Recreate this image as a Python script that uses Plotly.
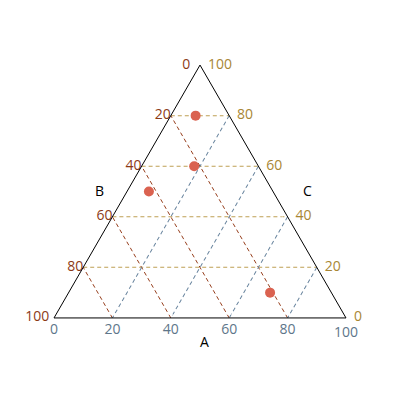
import plotly.graph_objects as go

# Data (percent compositions)
A_vals = [8.5, 18, 7.5, 69]
B_vals = [11.5, 22, 42.5, 21]
C_vals = [80, 60, 50, 10]

# Tick labels
ticks = [0, 20, 40, 60, 80, 100]

RED = "rgb(140,58,22)"
GOLD = "rgb(168,134,52)"
BLUE = "rgb(94,118,138)"
GRID_RED = "rgb(150,62,28)"
GRID_GOLD = "rgb(190,160,84)"
GRID_BLUE = "rgb(104,132,158)"
FONT = "Open Sans"
CLEAR = "rgba(0,0,0,0)"

# label offsets (invisible marker sizes control the text offset)
B_off = [14, 0, 0, 0, 0, 6]
A_off = [8, 8, 8, 8, 8, 12]
C_off = [11, 11, 11, 11, 11, 11]

fig = go.Figure()

# Data points (ternary a = C at top, b = B bottom-left, c = A bottom-right)
fig.add_trace(go.Scatterternary(
    a=C_vals, b=B_vals, c=A_vals, mode="markers",
    marker=dict(size=10, color="rgb(218,98,80)"),
    showlegend=False, hoverinfo="skip"))

# B tick labels along left edge
fig.add_trace(go.Scatterternary(
    a=[100 - t for t in ticks], b=ticks, c=[0] * len(ticks),
    mode="markers+text", text=[str(t) for t in ticks], textposition="middle left",
    marker=dict(size=B_off, color=CLEAR),
    textfont=dict(family=FONT, size=14, color=RED),
    cliponaxis=False, showlegend=False, hoverinfo="skip"))

# A tick labels along bottom edge
fig.add_trace(go.Scatterternary(
    a=[0] * len(ticks), b=[100 - t for t in ticks], c=ticks,
    mode="markers+text", text=[str(t) for t in ticks], textposition="bottom center",
    marker=dict(size=A_off, color=CLEAR),
    textfont=dict(family=FONT, size=14, color=BLUE),
    cliponaxis=False, showlegend=False, hoverinfo="skip"))

# C tick labels along right edge
fig.add_trace(go.Scatterternary(
    a=ticks, b=[0] * len(ticks), c=[100 - t for t in ticks],
    mode="markers+text", text=[str(t) for t in ticks], textposition="middle right",
    marker=dict(size=C_off, color=CLEAR),
    textfont=dict(family=FONT, size=14, color=GOLD),
    cliponaxis=False, showlegend=False, hoverinfo="skip"))

def ax(gridcolor):
    return dict(
        showticklabels=False, ticks="", tick0=0, dtick=20,
        showgrid=True, gridcolor=gridcolor, gridwidth=1, griddash="4px,3px",
        showline=True, linecolor="black", linewidth=1, title=dict(text=""),
    )

title_font = dict(family=FONT, size=14, color="black")
fig.update_layout(
    width=400, height=400,
    margin=dict(l=46, r=62, t=57, b=90),
    paper_bgcolor="white",
    font=dict(family=FONT, size=14, color="black"),
    ternary=dict(
        sum=100, bgcolor="white",
        aaxis=ax(GRID_GOLD),
        baxis=ax(GRID_RED),
        caxis=ax(GRID_BLUE),
    ),
    annotations=[
        dict(text="A", x=0.517, y=-0.091, xref="paper", yref="paper",
             xanchor="center", yanchor="middle", showarrow=False, font=title_font),
        dict(text="B", x=0.155, y=0.503, xref="paper", yref="paper",
             xanchor="center", yanchor="middle", showarrow=False, font=title_font),
        dict(text="C", x=0.869, y=0.503, xref="paper", yref="paper",
             xanchor="center", yanchor="middle", showarrow=False, font=title_font),
    ],
)

fig.write_html("out.html")
